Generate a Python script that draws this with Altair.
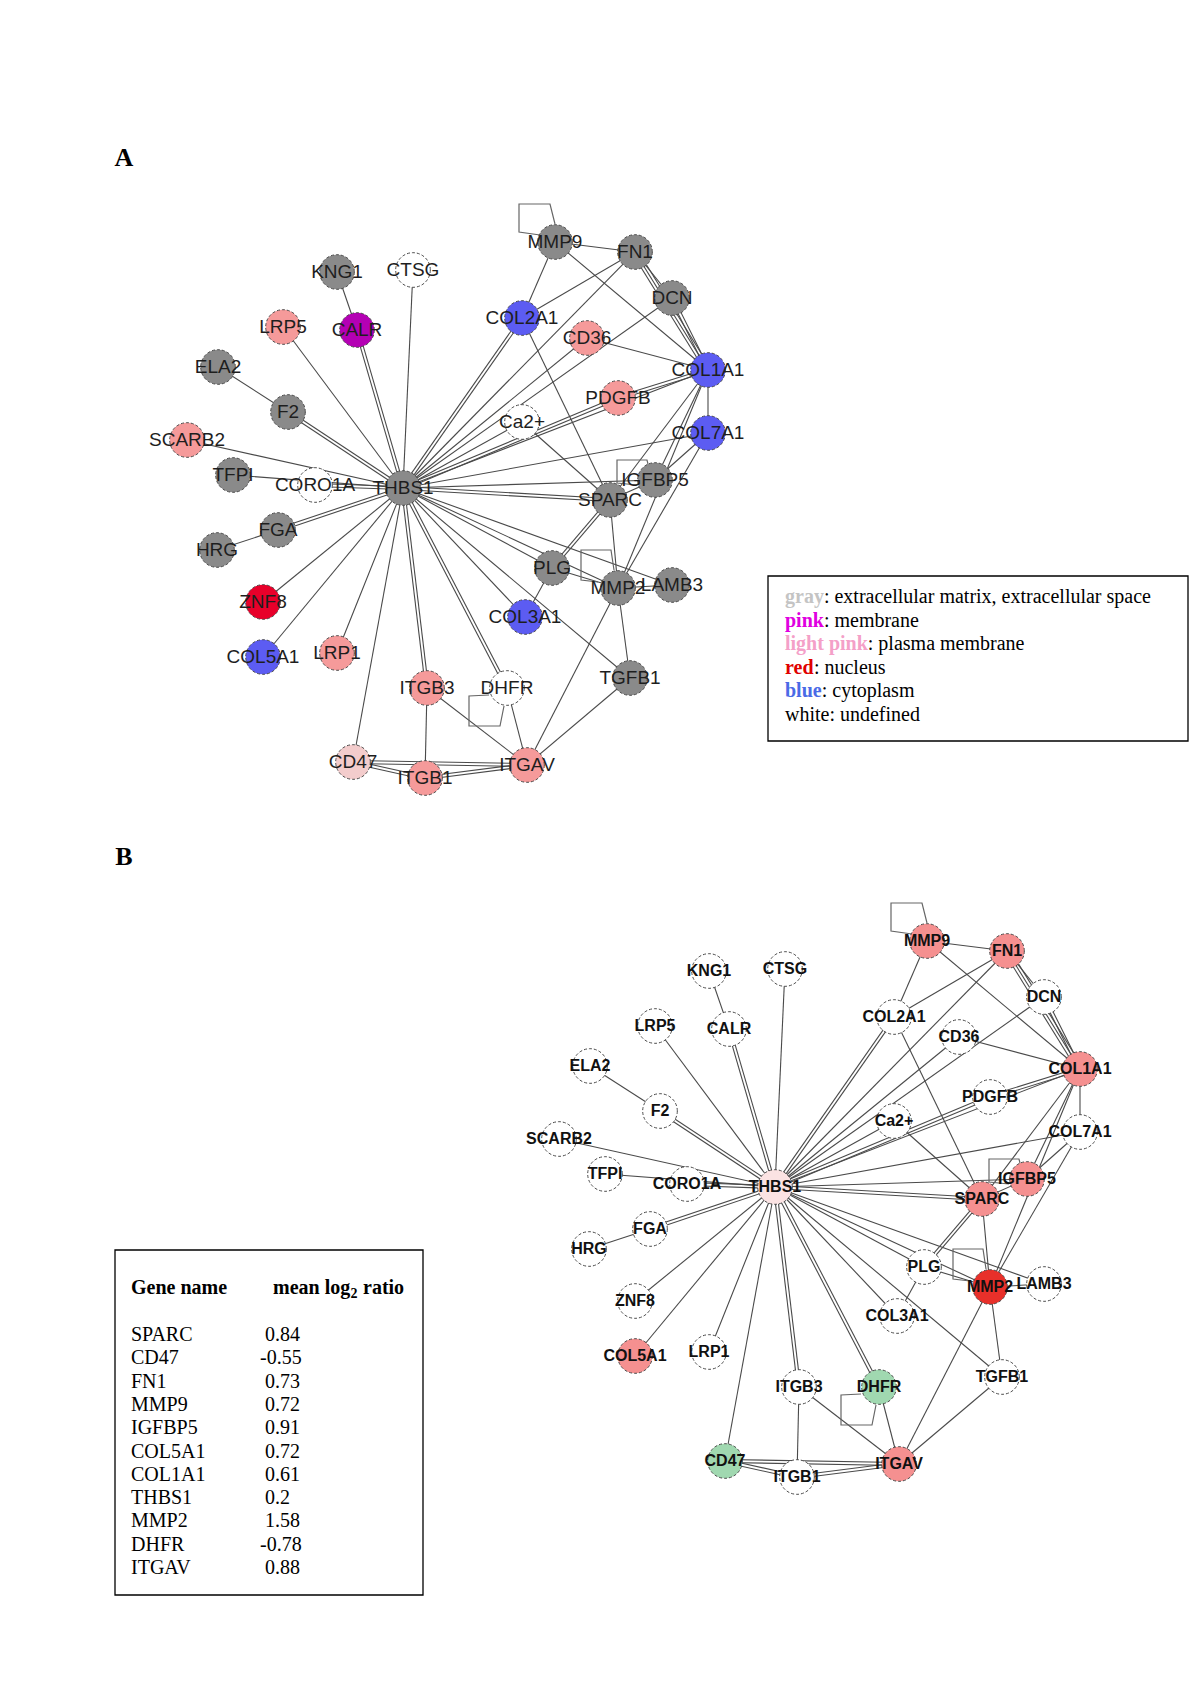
import altair as alt
import pandas as pd
import numpy as np

# ---------------- data ----------------
node_names = ["THBS1", "KNG1", "CTSG", "LRP5", "CALR", "ELA2", "F2", "SCARB2", "TFPI", "CORO1A",
              "FGA", "HRG", "ZNF8", "COL5A1", "LRP1", "ITGB3", "CD47", "ITGB1", "ITGAV", "DHFR",
              "TGFB1", "COL3A1", "PLG", "MMP2", "LAMB3", "SPARC", "IGFBP5", "COL7A1", "Ca2+", "PDGFB",
              "COL1A1", "CD36", "COL2A1", "DCN", "FN1", "MMP9"]
# layout coordinates of network A (page pixels)
node_x = [403, 337, 413, 283, 357, 218, 288, 187, 233, 315,
          278, 217, 263, 263, 337, 427, 353, 425, 527, 507,
          630, 525, 552, 618, 672, 610, 655, 708, 522, 618,
          708, 587, 522, 672, 635, 555]
node_y = [488, 272, 270, 327, 330, 367, 412, 440, 475, 485,
          530, 550, 602, 657, 653, 688, 762, 778, 765, 688,
          678, 617, 568, 588, 585, 500, 480, 433, 422, 398,
          370, 338, 318, 298, 252, 242]
# network B is the same layout, shifted
panel_b_shift = (372, 699)

# subcellular location colours (panel A)
loc_colors = {"gray": "#8a8a8a", "pink": "#b400b4", "lightpink": "#f59a9a", "palepink": "#f3cccc",
              "red": "#e8002a", "blue": "#5c5cf2", "white": "#ffffff"}
node_loc = ["gray", "gray", "white", "lightpink", "pink", "gray", "gray", "lightpink", "gray", "white",
            "gray", "gray", "red", "blue", "lightpink", "lightpink", "palepink", "lightpink", "lightpink", "white",
            "gray", "blue", "gray", "gray", "gray", "gray", "gray", "blue", "white", "lightpink",
            "blue", "lightpink", "blue", "gray", "gray", "gray"]

# expression colours (panel B)
expr_colors = {"up": "#f59090", "strong_up": "#e8302a", "slight_up": "#fbe3e3", "down": "#a0d8b0", "none": "#ffffff"}
node_expr = ["slight_up", "none", "none", "none", "none", "none", "none", "none", "none", "none",
             "none", "none", "none", "up", "none", "none", "down", "none", "up", "down",
             "none", "none", "none", "strong_up", "none", "up", "up", "none", "none", "none",
             "up", "none", "none", "none", "up", "up"]

edge_src = ["THBS1"] * 29 + [
    "KNG1", "ELA2", "HRG", "CD47", "CD47", "ITGB3", "ITGB3", "ITGB1", "DHFR", "MMP2",
    "TGFB1", "MMP2", "SPARC", "SPARC", "PLG", "MMP2", "COL1A1", "COL7A1", "SPARC", "MMP9",
    "MMP9", "MMP9", "FN1", "FN1", "FN1", "DCN", "CD36", "PDGFB", "COL1A1", "COL1A1",
    "COL1A1", "COL2A1", "Ca2+", "COL7A1", "PLG"]
edge_dst = ["CTSG", "LRP5", "CALR", "F2", "SCARB2", "TFPI", "CORO1A", "FGA", "ZNF8", "COL5A1",
            "LRP1", "CD47", "ITGB3", "DHFR", "COL3A1", "TGFB1", "PLG", "MMP2", "LAMB3", "SPARC",
            "IGFBP5", "COL7A1", "COL1A1", "PDGFB", "Ca2+", "CD36", "COL2A1", "FN1", "DCN"] + [
    "CALR", "F2", "FGA", "ITGB1", "ITGAV", "ITGB1", "ITGAV", "ITGAV", "ITGAV", "ITGAV",
    "ITGAV", "TGFB1", "MMP2", "PLG", "COL3A1", "LAMB3", "MMP2", "MMP2", "IGFBP5", "FN1",
    "COL2A1", "COL1A1", "COL2A1", "DCN", "COL1A1", "COL1A1", "COL1A1", "COL1A1", "COL7A1", "SPARC",
    "IGFBP5", "SPARC", "SPARC", "IGFBP5", "MMP2"]
edge_count = [1, 1, 2, 2, 1, 1, 2, 2, 1, 1,
              1, 1, 2, 2, 1, 1, 1, 1, 1, 2,
              1, 1, 1, 2, 1, 1, 2, 1, 1] + [
    1, 1, 1, 2, 2, 1, 1, 2, 1, 1,
    1, 1, 1, 2, 1, 1, 1, 1, 1, 1,
    1, 1, 1, 1, 3, 2, 1, 2, 1, 1,
    1, 1, 1, 1, 1]

loop_nodes = ["MMP9", "IGFBP5", "MMP2", "DHFR"]
loop_paths = ["M-15,-7L-36,-10L-36,-38L-5,-38L0,-18",
              "M-18,5L-38,3L-38,-20L-8,-20L-6,-12",
              "M-20,-6L-37,-8L-37,-38L-7,-38L-4,-18",
              "M-18,7L-38,8L-38,38L-7,38L-3,18"]

legend_words = ["gray", "pink", "light pink", "red", "blue", "white"]
legend_word_colors = ["#c4c4c4", "#e000e0", "#f4a0c8", "#e00000", "#4a6ae6", "#000000"]
legend_rest = [": extracellular matrix, extracellular space", ": membrane", ": plasma membrane",
               ": nucleus", ": cytoplasm", ": undefined"]

table_genes = ["SPARC", "CD47", "\u00a0FN1", "MMP9", "IGFBP5", "COL5A1", "COL1A1", "THBS1", "MMP2", "DHFR", "ITGAV"]
table_values = ["0.84", "-0.55", "0.73", "0.72", "0.91", "0.72", "0.61", "0.2", "1.58", "-0.78", "0.88"]

# ---------------- frames ----------------
pos = {n: (x, y) for n, x, y in zip(node_names, node_x, node_y)}
dxB, dyB = panel_b_shift

nodesA = pd.DataFrame({"name": node_names, "x": node_x, "y": node_y,
                       "fill": [loc_colors[c] for c in node_loc]})
nodesB = pd.DataFrame({"name": node_names, "x": [v + dxB for v in node_x], "y": [v + dyB for v in node_y],
                       "fill": [expr_colors[c] for c in node_expr]})
nodes_all = pd.concat([nodesA, nodesB], ignore_index=True)

rows = []
for s, t, c in zip(edge_src, edge_dst, edge_count):
    x1, y1 = pos[s]
    x2, y2 = pos[t]
    L = np.hypot(x2 - x1, y2 - y1)
    px, py = -(y2 - y1) / L, (x2 - x1) / L
    for k in range(c):
        off = (k - (c - 1) / 2) * 3.0
        for sx, sy in [(0, 0), (dxB, dyB)]:
            rows.append({"x": x1 + px * off + sx, "y": y1 + py * off + sy,
                         "x2": x2 + px * off + sx, "y2": y2 + py * off + sy})
edges = pd.DataFrame(rows)

loops = pd.DataFrame(
    [{"x": pos[n][0] + sx, "y": pos[n][1] + sy, "shape": p}
     for n, p in zip(loop_nodes, loop_paths) for sx, sy in [(0, 0), (dxB, dyB)]])

# ---------------- scales ----------------
X0, X1 = 8, 1192
Y0, Y1 = 8, 1683
xs = alt.Scale(domain=[X0, X1], nice=False, zero=False)
ys = alt.Scale(domain=[Y0, Y1], nice=False, zero=False, reverse=True)


def X(f="x"):
    return alt.X(f"{f}:Q", scale=xs, axis=None)


def Y(f="y"):
    return alt.Y(f"{f}:Q", scale=ys, axis=None)


# boxes (legend of A, table of B)
boxes = pd.DataFrame({"x": [768, 115], "x2": [1188, 423], "y": [576, 1250], "y2": [741, 1595]})
box_layer = alt.Chart(boxes).mark_rect(fill="white", stroke="#000", strokeWidth=1.3).encode(
    x=X(), x2="x2:Q", y=Y(), y2="y2:Q")

edge_layer = alt.Chart(edges).mark_rule(color="#4a4a4a", strokeWidth=1.1).encode(
    x=X(), y=Y(), x2="x2:Q", y2="y2:Q")

loop_layer = alt.Chart(loops).mark_point(filled=False, size=4, stroke="#666", strokeWidth=1.2,
                                         opacity=1).encode(
    x=X(), y=Y(), shape=alt.Shape("shape:N", scale=None, legend=None))

node_layer = alt.Chart(nodes_all).mark_point(filled=True, shape="circle", size=1200, stroke="#4a4a4a",
                                             strokeWidth=1, strokeDash=[3, 2], opacity=1).encode(
    x=X(), y=Y(), fill=alt.Fill("fill:N", scale=None, legend=None))

labelA = alt.Chart(nodesA).mark_text(font="Liberation Sans", fontSize=19, color="#1e1e1e",
                                     baseline="middle", align="center").encode(
    x=X(), y=Y(), text="name:N")
labelB = alt.Chart(nodesB).mark_text(font="Liberation Sans", fontSize=16, fontWeight="bold",
                                     color="#111", baseline="middle", align="center").encode(
    x=X(), y=Y(), text="name:N")

letters = pd.DataFrame({"x": [124, 124], "y": [158, 857], "t": ["A", "B"]})
letter_layer = alt.Chart(letters).mark_text(font="Liberation Serif", fontSize=26, fontWeight="bold",
                                            color="#000", baseline="middle", align="center").encode(
    x=X(), y=Y(), text="t:N")

# legend text of A
bold_w = {"gray": 38.9, "pink": 38.9, "light pink": 82.8, "red": 28.9, "blue": 36.7}
leg_y = [597, 620.5, 644, 667.5, 691, 714.5]
lw = pd.DataFrame({"x": [785] * 5, "y": leg_y[:5], "t": legend_words[:5], "c": legend_word_colors[:5]})
lr = pd.DataFrame({"x": [785 + bold_w[w] for w in legend_words[:5]] + [785],
                   "y": leg_y, "t": legend_rest[:5] + ["white" + legend_rest[5]]})
legw_layer = alt.Chart(lw).mark_text(font="Liberation Serif", fontSize=20, fontWeight="bold",
                                     baseline="middle", align="left").encode(
    x=X(), y=Y(), text="t:N", color=alt.Color("c:N", scale=None, legend=None))
legr_layer = alt.Chart(lr).mark_text(font="Liberation Serif", fontSize=20, color="#000",
                                     baseline="middle", align="left").encode(
    x=X(), y=Y(), text="t:N")

# table of B
row_y = [1335 + 23.3 * i for i in range(len(table_genes))]
tg = pd.DataFrame({"x": [131] * len(table_genes), "y": row_y, "t": table_genes})
tv = pd.DataFrame({"x": [260 if v.startswith("-") else 265 for v in table_values], "y": row_y, "t": table_values})
th = pd.DataFrame({"x": [131, 273, 363], "y": [1288, 1288, 1288], "t": ["Gene name", "mean log", "ratio"]})
tsub = pd.DataFrame({"x": [350.5], "y": [1294], "t": ["2"]})
tg_layer = alt.Chart(tg).mark_text(font="Liberation Serif", fontSize=20, color="#000",
                                   baseline="middle", align="left").encode(x=X(), y=Y(), text="t:N")
tv_layer = alt.Chart(tv).mark_text(font="Liberation Serif", fontSize=20, color="#000",
                                   baseline="middle", align="left").encode(x=X(), y=Y(), text="t:N")
th_layer = alt.Chart(th).mark_text(font="Liberation Serif", fontSize=20, fontWeight="bold", color="#000",
                                   baseline="middle", align="left").encode(x=X(), y=Y(), text="t:N")
tsub_layer = alt.Chart(tsub).mark_text(font="Liberation Serif", fontSize=14, fontWeight="bold", color="#000",
                                       baseline="middle", align="left").encode(x=X(), y=Y(), text="t:N")

chart = alt.layer(
    box_layer, edge_layer, loop_layer, node_layer, labelA, labelB, letter_layer,
    legw_layer, legr_layer, tg_layer, tv_layer, th_layer, tsub_layer
).properties(
    width=X1 - X0, height=Y1 - Y0, padding=0, autosize=alt.AutoSizeParams(type="none"),
    background="white"
).configure_view(stroke=None)

chart.save("out.html", embed_options={"renderer": "svg", "actions": False})
